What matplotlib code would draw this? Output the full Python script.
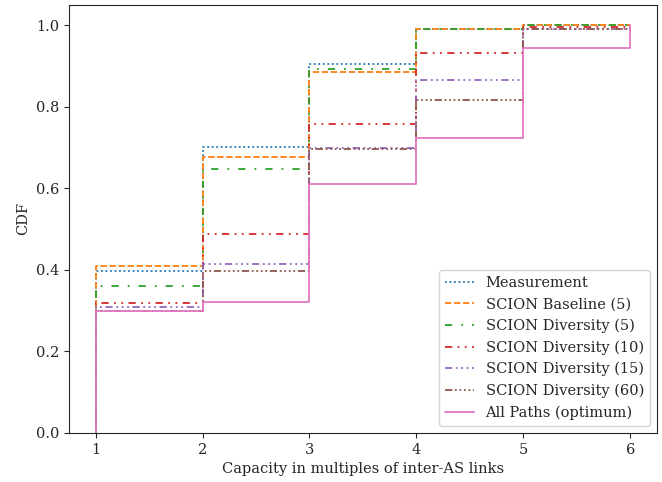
import matplotlib
matplotlib.use('Agg')
import matplotlib.pyplot as plt
import seaborn as sns

# capacity levels (multiples of inter-AS links)
capacity = [1, 2, 3, 4, 5, 6]

# CDF value on each step [k, k+1)
measurement = [0.397, 0.701, 0.906, 0.990, 1.000]
baseline_5 = [0.409, 0.677, 0.884, 0.990, 1.000]
diversity_5 = [0.359, 0.647, 0.892, 0.990, 1.000]
diversity_10 = [0.318, 0.489, 0.758, 0.932, 0.995]
diversity_15 = [0.309, 0.413, 0.699, 0.866, 0.990]
diversity_60 = [0.300, 0.396, 0.697, 0.816, 0.990]
all_paths = [0.298, 0.320, 0.611, 0.724, 0.943]

labels = ['Measurement', 'SCION Baseline (5)', 'SCION Diversity (5)',
          'SCION Diversity (10)', 'SCION Diversity (15)',
          'SCION Diversity (60)', 'All Paths (optimum)']

sns.set_style('ticks')
plt.rcParams['font.family'] = ['DejaVu Serif']
plt.rcParams['font.size'] = 10.5

palette = sns.color_palette('tab10')
styles = [
    dict(linestyle=(0, (1, 1.5))),
    dict(linestyle=(0, (3.5, 1.5))),
    dict(linestyle=(0, (4, 5, 1, 5))),
    dict(linestyle=(0, (4, 3, 1, 3, 1, 3))),
    dict(linestyle=(0, (4, 2, 1, 2, 1, 2, 1, 2))),
    dict(linestyle=(0, (4, 1.5, 1, 1.5, 1, 1.5, 1, 1.5, 1, 1.5))),
    dict(linestyle='-'),
]
series = [measurement, baseline_5, diversity_5, diversity_10,
          diversity_15, diversity_60, all_paths]

fig, ax = plt.subplots(figsize=(6.62, 4.82), dpi=100)
for i, (vals, lab) in enumerate(zip(series, labels)):
    xs = [capacity[0]] + capacity
    ys = [0.0] + vals + [1.0]
    ax.step(xs, ys, where='post', color=palette[i], lw=1.3,
            label=lab, **styles[i])

ax.set_ylim(0, 1.05)
ax.set_xlim(0.75, 6.25)
ax.set_xlabel('Capacity in multiples of inter-AS links')
ax.set_ylabel('CDF')
ax.legend(loc='lower right')

fig.subplots_adjust(left=0.104, right=0.9925, top=0.99, bottom=0.102)
fig.savefig('out.png', dpi=100)
